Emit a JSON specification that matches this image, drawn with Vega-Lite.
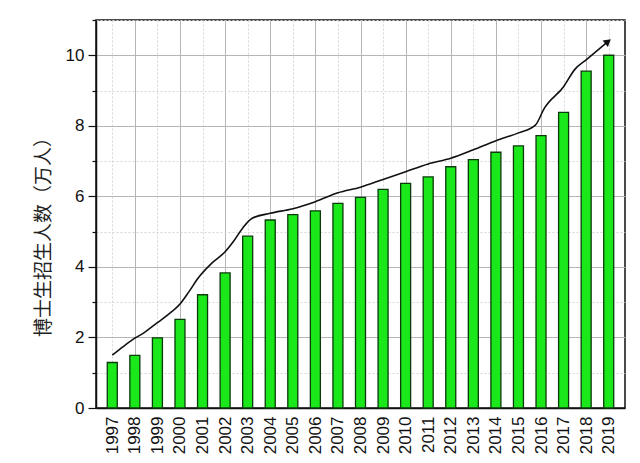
{
  "$schema": "https://vega.github.io/schema/vega-lite/v6.json",
  "width": 529,
  "height": 388,
  "autosize": "none",
  "padding": {"left": 96, "top": 20, "right": 15, "bottom": 55},
  "background": "white",
  "config": {
    "view": {"stroke": "#111", "strokeWidth": 1.5},
    "axis": {"labelFont": "Liberation Sans", "labelFontSize": 17, "labelColor": "#111", "domainColor": "#111", "domainWidth": 1.5, "tickColor": "#111"}
  },
  "datasets": {
    "bars": [
      {"year": 1997, "value": 1.29}, {"year": 1998, "value": 1.49}, {"year": 1999, "value": 1.99},
      {"year": 2000, "value": 2.51}, {"year": 2001, "value": 3.21}, {"year": 2002, "value": 3.83},
      {"year": 2003, "value": 4.87}, {"year": 2004, "value": 5.33}, {"year": 2005, "value": 5.48},
      {"year": 2006, "value": 5.59}, {"year": 2007, "value": 5.80}, {"year": 2008, "value": 5.97},
      {"year": 2009, "value": 6.20}, {"year": 2010, "value": 6.37}, {"year": 2011, "value": 6.55},
      {"year": 2012, "value": 6.84}, {"year": 2013, "value": 7.04}, {"year": 2014, "value": 7.25},
      {"year": 2015, "value": 7.43}, {"year": 2016, "value": 7.72}, {"year": 2017, "value": 8.38},
      {"year": 2018, "value": 9.55}, {"year": 2019, "value": 10.0}
    ],
    "trend": [
      {"year": 1997.0, "value": 1.50}, {"year": 1997.5, "value": 1.75}, {"year": 1998.0, "value": 1.98},
      {"year": 1998.4, "value": 2.13}, {"year": 1999.0, "value": 2.42}, {"year": 1999.5, "value": 2.66},
      {"year": 2000.0, "value": 2.95}, {"year": 2000.4, "value": 3.30}, {"year": 2000.8, "value": 3.68},
      {"year": 2001.4, "value": 4.10}, {"year": 2002.0, "value": 4.43}, {"year": 2002.4, "value": 4.75},
      {"year": 2002.8, "value": 5.12}, {"year": 2003.2, "value": 5.38}, {"year": 2004.0, "value": 5.52},
      {"year": 2005.0, "value": 5.65}, {"year": 2006.0, "value": 5.85}, {"year": 2007.0, "value": 6.10},
      {"year": 2008.0, "value": 6.26}, {"year": 2009.0, "value": 6.48}, {"year": 2010.0, "value": 6.70},
      {"year": 2011.0, "value": 6.92}, {"year": 2012.0, "value": 7.08}, {"year": 2013.0, "value": 7.32},
      {"year": 2014.0, "value": 7.58}, {"year": 2015.0, "value": 7.80}, {"year": 2015.75, "value": 8.02},
      {"year": 2016.15, "value": 8.50}, {"year": 2017.0, "value": 9.11}, {"year": 2017.5, "value": 9.60},
      {"year": 2018.0, "value": 9.87}, {"year": 2018.97, "value": 10.39}
    ]
  },
  "encoding": {
    "x": {
      "field": "year", "type": "quantitative",
      "scale": {"domain": [1996.5, 2019.5], "nice": false, "zero": false},
      "axis": {
        "title": null,
        "values": [1997,1998,1999,2000,2001,2002,2003,2004,2005,2006,2007,2008,2009,2010,2011,2012,2013,2014,2015,2016,2017,2018,2019],
        "labelExpr": "'' + datum.value",
        "labelAngle": -90, "labelAlign": "right", "labelBaseline": "middle",
        "labelPadding": 8, "ticks": false, "labelFlush": false, "labelOverlap": false, "labelSeparation": 0, "labelBound": false,
        "grid": true,
        "gridColor": {"condition": {"test": "datum.value % 2 == 0", "value": "#b5b5b5"}, "value": "#d6d6d6"},
        "gridDash": {"condition": {"test": "datum.value % 2 == 0", "value": []}, "value": [2, 2]},
        "gridWidth": 1
      }
    },
    "y": {
      "field": "value", "type": "quantitative",
      "scale": {"domain": [0, 11], "nice": false},
      "axis": {
        "title": "博士生招生人数（万人）",
        "titleFont": "Noto Sans CJK SC", "titleFontSize": 19, "titleFontWeight": "normal", "titleColor": "#222",
        "titleAngle": -90, "titleX": -53, "titleY": 212, "titleAlign": "center", "titleBaseline": "middle",
        "values": [0,1,2,3,4,5,6,7,8,9,10,11],
        "labelExpr": "datum.value % 2 == 0 && datum.value <= 10 ? datum.label : ''",
        "labelPadding": 4,
        "tickSize": {"condition": {"test": "datum.value % 2 == 0", "value": 8}, "value": 4},
        "tickWidth": 1.2,
        "grid": true,
        "gridColor": {"condition": {"test": "datum.value % 2 == 0", "value": "#b5b5b5"}, "value": "#d6d6d6"},
        "gridDash": {"condition": {"test": "datum.value % 2 == 0", "value": []}, "value": [2, 2]},
        "gridWidth": 1
      }
    }
  },
  "layer": [
    {
      "data": {"name": "bars"},
      "mark": {"type": "bar", "orient": "vertical", "size": 10, "fill": "#1ae81a", "stroke": "#0b3a0b", "strokeWidth": 1.3}
    },
    {
      "data": {"name": "trend"},
      "mark": {"type": "line", "color": "#111", "strokeWidth": 1.6, "interpolate": "monotone"}
    },
    {
      "data": {"name": "trend"},
      "transform": [{"filter": "datum.year > 2018.9"}],
      "mark": {"type": "point", "shape": "triangle-right", "filled": true, "color": "#111", "size": 70, "angle": -39, "opacity": 1}
    }
  ]
}
